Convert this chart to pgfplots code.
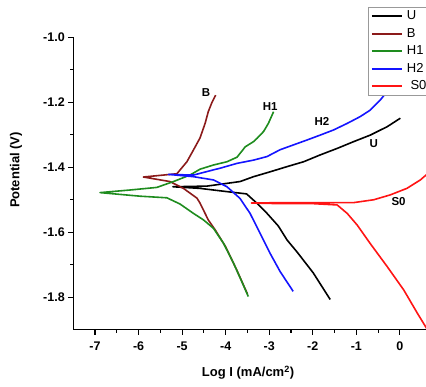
\documentclass[border=0pt]{standalone}
\usepackage{pgfplots}
\pgfplotsset{compat=1.18}
\usepackage{fontspec}
\setmainfont{Liberation Sans}
\definecolor{cB}{RGB}{139,26,26}
\definecolor{cH1}{RGB}{30,140,30}
\definecolor{cH2}{RGB}{20,20,255}
\definecolor{cS0}{RGB}{255,20,20}
\begin{document}
\begin{tikzpicture}
\begin{axis}[
  scale only axis, width=353.2pt, height=292.4pt,
  at={(0,0)}, anchor=south west,
  xmin=-7.5, xmax=0.61, ymin=-1.9, ymax=-1.0,
  axis lines=left, axis line style={-, line width=1.3pt},
  xtick={-7,-6,-5,-4,-3,-2,-1,0},
  ytick={-1.8,-1.6,-1.4,-1.2,-1.0},
  minor x tick num=1, minor y tick num=1,
  tick align=outside, major tick length=5pt, minor tick length=3pt,
  tick style={line width=1.1pt, black},
  /pgf/number format/assume math mode=true,
  yticklabel style={/pgf/number format/fixed, /pgf/number format/fixed zerofill, /pgf/number format/precision=1},
  xticklabel style={yshift=-3.5pt},
  tick label style={font=\bfseries\fontsize{12.5}{14}\selectfont},
  every axis y label/.style={at={(rel axis cs:0,0.546)}, xshift=-57.25pt, rotate=90, anchor=center},
  every axis x label/.style={at={(rel axis cs:0.495,0)}, yshift=-43.3pt, anchor=center},
  label style={font=\bfseries\fontsize{13}{15}\selectfont},
  xlabel={Log I (mA/cm\textsuperscript{2})},
  ylabel={Potential (V)},
  legend style={at={(rel axis cs:0.8345,1.1036)}, anchor=north west, draw=gray!80, line width=0.8pt, fill=white,
    inner sep=2.5pt, row sep=4.5pt,
    nodes={font=\fontsize{13}{15}\selectfont, inner sep=1pt, text height=9pt, text depth=2pt},
    /tikz/every odd column/.append style={column sep=3pt}},
  legend cell align=left,
  legend image code/.code={\draw[#1, line width=2pt] (0pt,0pt) -- (30pt,0pt);},
  every axis plot/.append style={line width=1.6pt, line join=round},
]
% U
\addplot[black] coordinates {
(-1.60,-1.807) (-1.99,-1.725) (-2.36,-1.661) (-2.59,-1.624) (-2.79,-1.581)
(-3.05,-1.542) (-3.28,-1.511) (-3.52,-1.482) (-3.97,-1.475) (-4.59,-1.465)
(-5.21,-1.460)
(-4.43,-1.458) (-3.67,-1.444) (-3.36,-1.429) (-2.98,-1.414) (-2.59,-1.398)
(-2.21,-1.383) (-1.83,-1.362) (-1.44,-1.342) (-1.06,-1.321) (-0.68,-1.301)
(-0.29,-1.275) (0.01,-1.249)
};
\addlegendentry{U}
% B
\addplot[cB] coordinates {
(-3.50,-1.790) (-3.75,-1.715) (-4.00,-1.645) (-4.24,-1.593) (-4.40,-1.562)
(-4.59,-1.510) (-4.66,-1.495) (-4.97,-1.465) (-5.28,-1.444)
(-5.89,-1.430)
(-5.12,-1.420) (-4.89,-1.383) (-4.70,-1.337) (-4.59,-1.310) (-4.47,-1.264)
(-4.40,-1.229) (-4.32,-1.202) (-4.23,-1.178)
};
\addlegendentry{B}
% H1
\addplot[cH1] coordinates {
(-3.48,-1.798) (-3.63,-1.752) (-3.82,-1.695) (-4.05,-1.634) (-4.28,-1.588)
(-4.51,-1.562) (-4.74,-1.542) (-5.05,-1.513) (-5.35,-1.494) (-5.97,-1.489)
(-6.885,-1.478)
(-6.195,-1.470) (-5.58,-1.462) (-5.20,-1.444) (-4.82,-1.424) (-4.59,-1.406)
(-4.28,-1.393) (-3.97,-1.383) (-3.74,-1.369) (-3.55,-1.337) (-3.36,-1.321)
(-3.28,-1.311) (-3.13,-1.290) (-3.02,-1.265) (-2.90,-1.229)
};
\addlegendentry{H1}
% H2
\addplot[cH2] coordinates {
(-2.45,-1.782) (-2.75,-1.721) (-2.98,-1.665) (-3.21,-1.603) (-3.44,-1.542)
(-3.67,-1.496) (-3.97,-1.460) (-4.28,-1.439) (-4.74,-1.429)
(-5.315,-1.422)
(-4.74,-1.424) (-4.28,-1.408) (-4.13,-1.403) (-3.74,-1.388) (-3.36,-1.378)
(-3.05,-1.367) (-2.75,-1.346) (-2.44,-1.331) (-2.13,-1.316) (-1.83,-1.301)
(-1.52,-1.285) (-1.21,-1.265) (-0.91,-1.244) (-0.68,-1.224) (-0.45,-1.193)
(-0.33,-1.173) (-0.10,-1.132) (0.13,-1.094)
};
\addlegendentry{H2}
% S0
\addplot[cS0] coordinates {
(0.70,-1.915) (0.61,-1.895) (0.40,-1.849) (0.09,-1.778) (-0.29,-1.706)
(-0.68,-1.635) (-0.98,-1.578) (-1.21,-1.542) (-1.44,-1.516) (-1.99,-1.512)
(-2.74,-1.512) (-3.41,-1.510)
(-2.74,-1.509) (-1.98,-1.509) (-1.07,-1.509) (-0.60,-1.500) (-0.22,-1.485)
(0.16,-1.465) (0.47,-1.439) (0.60,-1.424) (0.92,-1.400)
};
\addlegendentry{\ S0}
\begin{scope}[every node/.style={font=\bfseries\fontsize{11.5}{13}\selectfont}]
\node at (axis cs:-4.45,-1.169) {B};
\node at (axis cs:-2.98,-1.214) {H1};
\node at (axis cs:-1.79,-1.260) {H2};
\node at (axis cs:-0.60,-1.326) {U};
\node at (axis cs:-0.03,-1.506) {S0};
\end{scope}
\end{axis}
\pgfresetboundingbox
\useasboundingbox (-73.25pt,-56.3pt) rectangle (352.75pt,329.7pt);
\end{tikzpicture}
\end{document}
